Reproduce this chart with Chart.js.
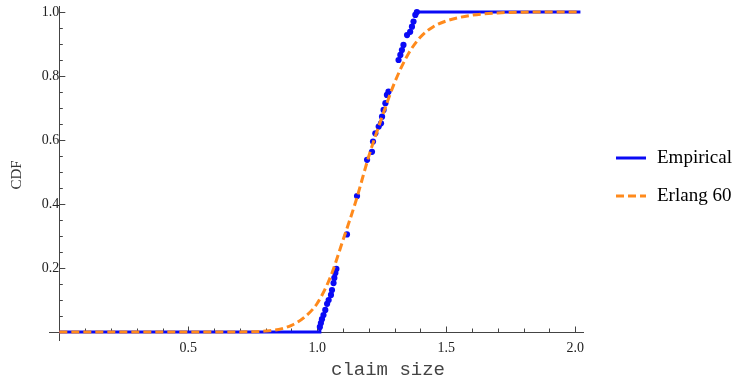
<!DOCTYPE html>
<html>
<head>
<meta charset="utf-8">
<script src="https://cdn.jsdelivr.net/npm/chart.js@4"></script>
<style>
  html, body { margin: 0; padding: 0; background: #fff; }
  #wrap { width: 736px; height: 381px; }
</style>
</head>
<body>
<div id="wrap"><canvas id="cdfChart"></canvas></div>
<script>
// 경험적 CDF 표본점 (claim size, 누적 비율)
const empX = [1.010, 1.014, 1.018, 1.024, 1.031, 1.038, 1.044, 1.053, 1.057, 1.063, 1.066, 1.070, 1.074,
              1.115, 1.154,
              1.193, 1.212, 1.216, 1.225, 1.238, 1.247, 1.251, 1.257, 1.264, 1.270, 1.276,
              1.315, 1.322, 1.328, 1.334, 1.348, 1.360, 1.367, 1.373, 1.380, 1.386];
const empY = [0.016, 0.028, 0.040, 0.053, 0.069, 0.088, 0.100, 0.116, 0.131, 0.153, 0.169, 0.184, 0.197,
              0.305, 0.425,
              0.538, 0.563, 0.595, 0.621, 0.642, 0.652, 0.673, 0.694, 0.715, 0.741, 0.751,
              0.850, 0.866, 0.881, 0.897, 0.928, 0.938, 0.954, 0.970, 0.991, 1.000];

// Erlang 60 적합 CDF
const erlX = [0, 0.70, 0.80, 0.85, 0.90, 0.95, 1.00, 1.05, 1.10, 1.15, 1.20, 1.25, 1.30, 1.35,
              1.40, 1.45, 1.50, 1.60, 1.70, 1.80, 2.02];
const erlY = [0, 0.0003, 0.003, 0.008, 0.021, 0.046, 0.090, 0.170, 0.288, 0.410, 0.550, 0.670, 0.780, 0.865,
              0.922, 0.954, 0.972, 0.990, 0.997, 0.9995, 1.0];

// 그리는 구간과 눈금
const plotRange = [0, 2.02];
const xTicks = [0.5, 1.0, 1.5, 2.0];
const yTicks = [0.2, 0.4, 0.6, 0.8, 1.0];
const seriesLabels = ['Empirical', 'Erlang 60'];

const BLUE = '#0a0af5';
const ORANGE = '#ff8a1c';
const AXIS = '#444';

// 계단의 평평한 부분 (처음 점 이전, 마지막 점 이후)
const last = empX.length - 1;
const stepLine = [
    { x: plotRange[0], y: 0 },
    { x: empX[0], y: 0 },
    { x: empX[0], y: empY[0] },
    { x: (empX[0] + empX[last]) / 2, y: null },
    { x: empX[last], y: empY[last] },
    { x: plotRange[1], y: empY[last] }
];
const empPoints = empX.map((x, i) => ({ x: x, y: empY[i] }));
const erlPoints = erlX.map((x, i) => ({ x: x, y: erlY[i] }));

// 안쪽으로 향하는 눈금선
const innerTicks = {
    id: 'innerTicks',
    beforeDatasetsDraw(chart) {
        const c = chart.ctx;
        const sx = chart.scales.x, sy = chart.scales.y;
        const x0 = sx.getPixelForValue(0), y0 = sy.getPixelForValue(0);
        c.save();
        c.strokeStyle = AXIS;
        c.lineWidth = 1;
        c.beginPath();
        for (let i = 1; i <= 20; i++) {
            const px = Math.round(sx.getPixelForValue(i / 10)) + 0.5;
            const len = i % 5 === 0 ? 5.5 : 3.5;
            c.moveTo(px, y0);
            c.lineTo(px, y0 - len);
        }
        for (let i = 1; i <= 20; i++) {
            const py = Math.round(sy.getPixelForValue(i / 20)) + 0.5;
            const len = i % 4 === 0 ? 6 : 3.5;
            c.moveTo(x0, py);
            c.lineTo(x0 + len, py);
        }
        c.stroke();
        c.restore();
    }
};

// 축 제목과 오른쪽 범례
const labelsAndLegend = {
    id: 'labelsAndLegend',
    afterDraw(chart) {
        const c = chart.ctx;
        c.save();
        c.fillStyle = '#333';
        c.font = '15px "Liberation Serif"';
        c.textAlign = 'center';
        c.textBaseline = 'middle';
        c.translate(17.5, 175);
        c.rotate(-Math.PI / 2);
        c.fillText('CDF', 0, 0);
        c.restore();

        c.save();
        c.fillStyle = '#444';
        c.font = '19px "Liberation Mono"';
        c.textAlign = 'center';
        c.textBaseline = 'middle';
        c.fillText('claim size', 388, 370);
        c.restore();

        const shown = [chart.data.datasets[0], chart.data.datasets[2]];
        shown.forEach((ds, i) => {
            const y = 158 + i * 38;
            c.save();
            c.strokeStyle = ds.borderColor;
            c.lineWidth = ds.borderWidth;
            c.setLineDash(ds.borderDash || []);
            c.beginPath();
            c.moveTo(616, y);
            c.lineTo(646, y);
            c.stroke();
            c.setLineDash([]);
            c.fillStyle = '#000';
            c.font = '19px "Liberation Serif"';
            c.textBaseline = 'middle';
            c.fillText(ds.label, 657, y);
            c.restore();
        });
    }
};

const tickFont = { family: '"Liberation Serif"', size: 14 };

// 축 라벨 때문에 생기는 여백 제거
function noEdgePadding(s) {
    s.paddingTop = 0;
    s.paddingBottom = 0;
    s.paddingLeft = 0;
    s.paddingRight = 0;
}

new Chart(document.getElementById('cdfChart'), {
    type: 'scatter',
    data: {
        datasets: [
            {
                label: seriesLabels[0],
                data: stepLine,
                showLine: true,
                borderColor: BLUE,
                borderWidth: 3,
                pointRadius: 0,
                spanGaps: false,
                order: 3
            },
            {
                label: '',
                data: empPoints,
                showLine: false,
                backgroundColor: BLUE,
                borderWidth: 0,
                pointRadius: 3.1,
                order: 2
            },
            {
                label: seriesLabels[1],
                data: erlPoints,
                showLine: true,
                borderColor: ORANGE,
                borderWidth: 3,
                borderDash: [8, 4],
                pointRadius: 0,
                cubicInterpolationMode: 'monotone',
                order: 1
            }
        ]
    },
    options: {
        responsive: true,
        maintainAspectRatio: false,
        animation: false,
        layout: { padding: { left: 49, right: 153, top: 6, bottom: 41 } },
        plugins: {
            legend: { display: false },
            tooltip: { enabled: false }
        },
        scales: {
            x: {
                type: 'linear',
                min: -0.04,
                max: 2.03,
                position: { y: 0 },
                grid: { display: true, drawOnChartArea: false, drawTicks: false },
                border: { display: true, color: AXIS, width: 1 },
                ticks: {
                    font: tickFont,
                    color: '#222',
                    padding: 8,
                    callback: v => v.toFixed(1)
                },
                afterBuildTicks: s => { s.ticks = xTicks.map(v => ({ value: v })); },
                afterFit: noEdgePadding
            },
            y: {
                type: 'linear',
                min: -0.025,
                max: 1.01875,
                position: { x: 0 },
                grid: { display: true, drawOnChartArea: false, drawTicks: false },
                border: { display: true, color: AXIS, width: 1 },
                ticks: {
                    font: tickFont,
                    color: '#222',
                    padding: 7,
                    callback: v => v.toFixed(1)
                },
                afterBuildTicks: s => { s.ticks = yTicks.map(v => ({ value: v })); },
                afterFit: noEdgePadding
            }
        }
    },
    plugins: [innerTicks, labelsAndLegend]
});
</script>
</body>
</html>
